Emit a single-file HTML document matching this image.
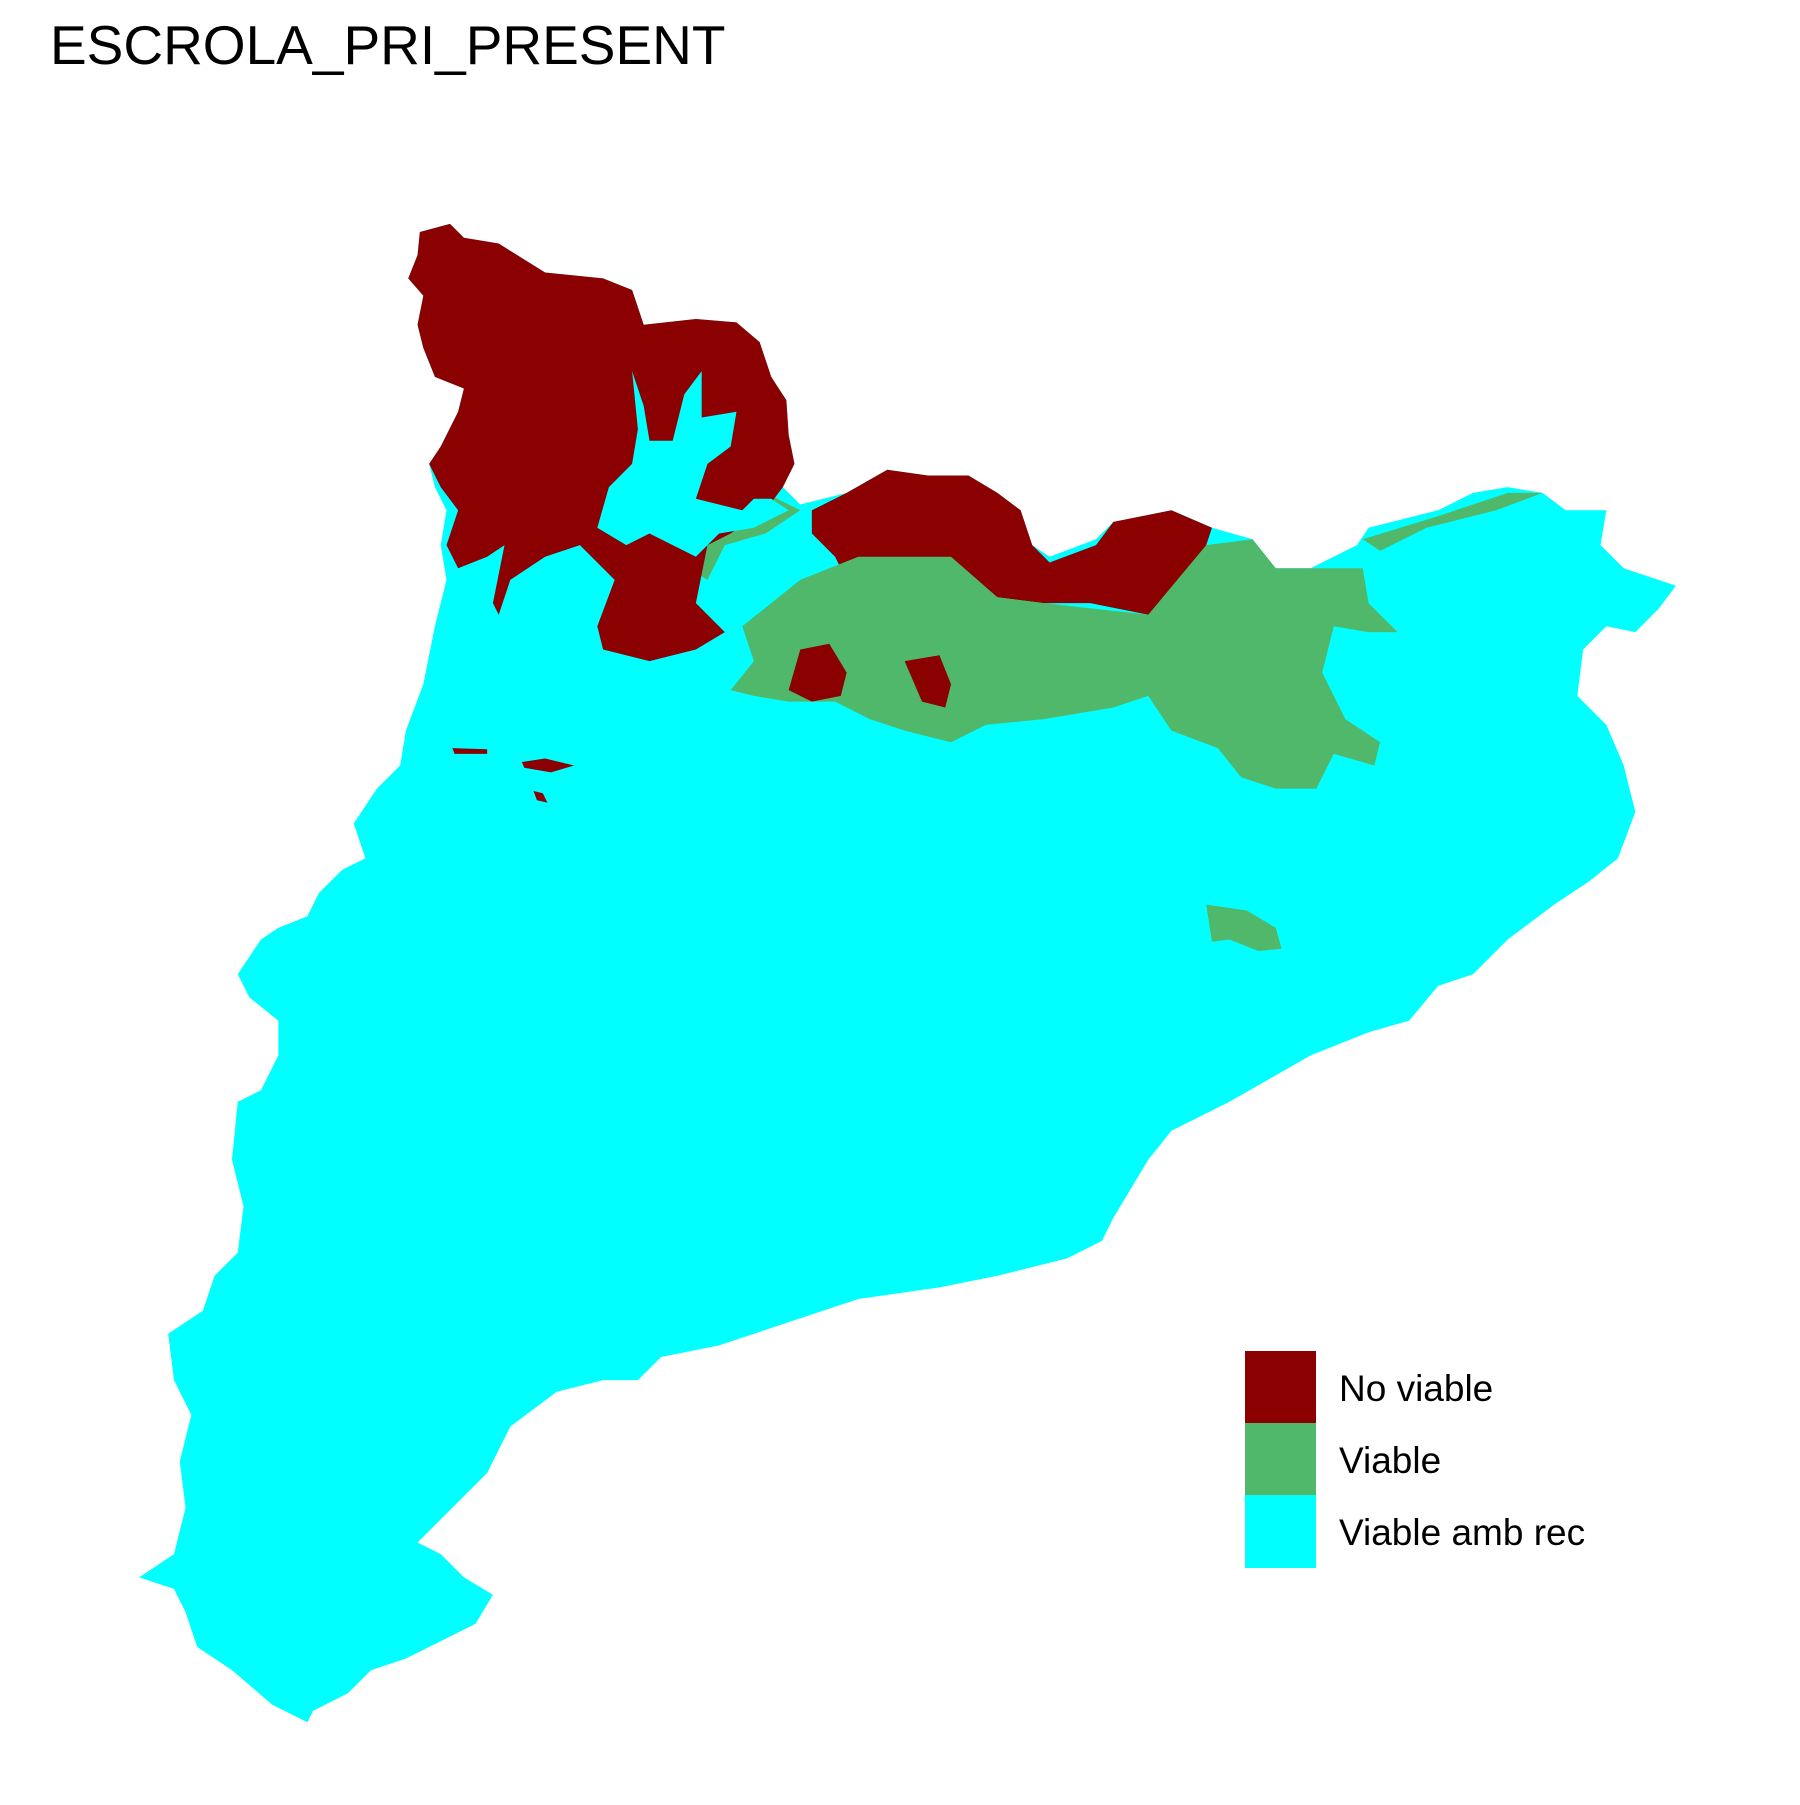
<!DOCTYPE html>
<html><head><meta charset="utf-8"><style>
body{margin:0;background:#fff;width:1800px;height:1800px;overflow:hidden;font-family:"Liberation Sans",Arial,sans-serif}
</style></head><body>
<svg width="1800" height="1800" viewBox="0 0 1800 1800" xmlns="http://www.w3.org/2000/svg">
<text x="50" y="64" font-size="55" font-family="Liberation Sans, Arial, sans-serif" fill="#000">ESCROLA_PRI_PRESENT</text>
<g id="map" transform="scale(1.1598)"></g>
<g id="legend"></g>
</svg>
<script>
const categories = ["No viable", "Viable", "Viable amb rec"];
const colors = ["#8B0000", "#50B86A", "#00FFFF"];
const regionClass = ["cyan-outline","green-valley","red-north","cyan-valley","red-center","green-east","green-ne","red-blob-1","red-blob-2","red-isle-1","red-isle-2","red-isle-3","green-isle"];
const regionCat = [2,1,0,2,0,1,1,0,0,0,0,0,1];
const regionPts = [
"362,200 388,193 400,205 430,210 470,235 520,240 545,250 555,280 600,275 635,278 655,295 665,325 678,345 680,375 685,400 675,420 690,435 730,425 765,405 800,410 835,410 860,425 880,440 890,470 905,480 945,465 960,450 1010,440 1045,455 1080,465 1100,490 1130,490 1170,470 1180,455 1240,440 1270,425 1300,420 1330,425 1350,440 1385,440 1380,470 1400,490 1445,505 1430,525 1410,545 1385,540 1365,560 1360,600 1385,625 1400,660 1410,700 1395,740 1370,760 1340,780 1300,810 1270,840 1240,850 1215,880 1180,890 1130,910 1060,950 1010,975 990,1000 960,1050 950,1070 920,1085 860,1100 810,1110 740,1120 680,1140 620,1160 570,1170 550,1190 520,1190 480,1200 440,1230 420,1270 390,1300 360,1330 380,1340 400,1360 425,1375 410,1400 380,1415 350,1430 320,1440 300,1460 270,1475 265,1485 235,1470 200,1440 170,1420 160,1390 150,1370 120,1360 150,1340 160,1300 155,1260 165,1220 150,1190 145,1150 175,1130 185,1100 205,1080 210,1040 200,1000 205,950 225,940 240,910 240,880 215,860 205,840 225,810 240,800 265,790 275,770 295,750 315,740 305,710 325,680 345,660 350,630 365,590 375,540 385,500 380,470 385,440 375,420 370,400 380,385 395,355 400,335 375,325 365,300 360,280 365,255 352,240 360,220",
"530,330 560,320 590,315 615,345 645,350 640,390 620,410 615,430 660,425 690,440 660,460 625,470 610,500 570,475 540,480 505,465 515,420 535,400",
"362,200 388,193 400,205 430,210 470,235 520,240 545,250 555,280 600,275 635,278 655,295 665,325 678,345 680,375 685,400 675,420 660,440 630,460 610,470 600,520 625,545 600,560 560,570 520,560 515,540 530,500 500,470 470,480 440,500 430,530 425,520 435,470 420,480 395,490 385,470 395,440 380,420 370,400 380,385 395,355 400,335 375,325 365,300 360,280 365,255 352,240 360,220",
"545,320 555,350 560,380 580,380 590,340 605,320 605,360 635,355 630,385 610,400 600,430 640,440 650,430 665,430 680,440 650,455 620,460 600,480 580,470 560,460 540,470 515,455 525,420 545,400 550,370",
"700,440 730,425 765,405 800,410 835,410 860,425 880,440 890,470 905,485 945,470 960,450 1010,440 1045,455 1030,500 990,530 940,520 900,520 860,515 820,505 780,510 740,520 720,480 700,460",
"640,540 690,500 740,480 820,480 860,515 900,520 990,530 1040,470 1080,465 1100,490 1130,490 1175,490 1180,520 1205,545 1180,545 1150,540 1140,580 1160,620 1190,640 1185,660 1150,650 1135,680 1100,680 1070,670 1050,645 1010,630 990,600 960,610 900,620 850,625 820,640 780,630 750,620 720,605 680,605 650,600 630,595 650,570",
"1175,465 1240,445 1300,425 1330,425 1290,440 1230,455 1190,475",
"690,560 715,555 730,580 725,600 700,605 680,595",
"780,570 810,565 820,590 815,610 795,605",
"390,645 420,646 420,650 392,650",
"450,657 470,654 495,660 475,666 452,662",
"460,682 468,684 472,692 463,690",
"1040,780 1075,785 1100,800 1105,818 1085,820 1060,810 1045,812"
];
const g = document.getElementById('map');
const NS = "http://www.w3.org/2000/svg";
regionPts.forEach((pts, i) => {
  const p = document.createElementNS(NS, 'polygon');
  p.setAttribute('points', pts);
  p.setAttribute('fill', colors[regionCat[i]]);
  
  
  g.appendChild(p);
});
const lg = document.getElementById('legend');
categories.forEach((c, i) => {
  const r = document.createElementNS(NS, 'rect');
  r.setAttribute('x', 1255); r.setAttribute('y', 1361 + i * 72);
  r.setAttribute('width', 71); r.setAttribute('height', 73);
  r.setAttribute('fill', colors[i]);
  
  
  lg.appendChild(r);
  const t = document.createElementNS(NS, 'text');
  t.setAttribute('x', 1349); t.setAttribute('y', 1411 + i * 72);
  t.setAttribute('font-size', 37);
  t.setAttribute('font-family', 'Liberation Sans, Arial, sans-serif');
  t.textContent = c;
  
  
  lg.appendChild(t);
});
lg.setAttribute('transform', 'translate(-10,-10)');
</script>
</body></html>
